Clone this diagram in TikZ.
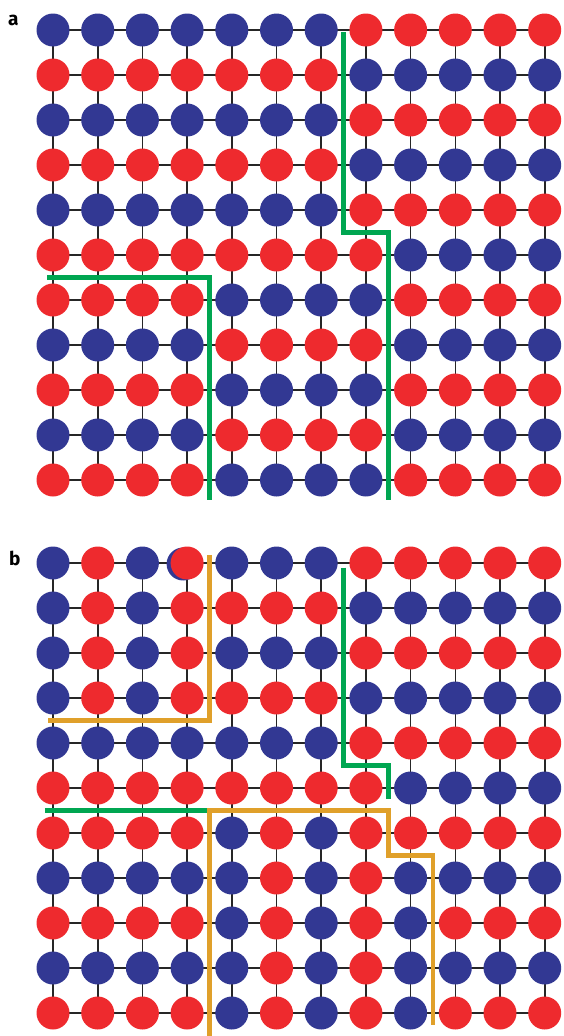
\documentclass[tikz,border=0pt]{standalone}
\usepackage{fontspec}
\newfontfamily\panelfont{Fira Sans}

\definecolor{latB}{RGB}{50,56,147}
\definecolor{latR}{RGB}{238,42,46}
\definecolor{wallG}{RGB}{0,166,81}
\definecolor{wallO}{RGB}{224,160,42}

\begin{document}
\begin{tikzpicture}[x=1pt, y=-1pt,
  site/.style={circle, inner sep=0pt, minimum size=33pt},
  bond/.style={line width=1.6pt, black!85},
  wallg/.style={line width=4.5pt, wallG},
  wallo/.style={line width=4.5pt, wallO},
  lbl/.style={font=\panelfont\bfseries\fontsize{19}{19}\selectfont, inner sep=0pt}]
\useasboundingbox (0,0) rectangle (563,1036);

\node[lbl, anchor=base west] (pa) at (8,25) {a};
\node[lbl, anchor=base west] (pb) at (9,565) {b};

% panel a
\begin{scope}[shift={(53pt,-30pt)}, x=44.7pt, y=-45pt]
  \foreach \cx in {0,...,11} \foreach \ry in {0,...,10} \coordinate (a-\cx-\ry) at (\cx,\ry);
  \foreach \ry in {0,...,10} \draw[bond] (a-0-\ry) -- (a-11-\ry);
  \foreach \cx in {0,...,11} \draw[bond] (a-\cx-0) -- (a-\cx-10);
  \foreach \rowcols [count=\ry from 0] in {
      {B,B,B,B,B,B,B,R,R,R,R,R},{R,R,R,R,R,R,R,B,B,B,B,B},
      {B,B,B,B,B,B,B,R,R,R,R,R},{R,R,R,R,R,R,R,B,B,B,B,B},
      {B,B,B,B,B,B,B,R,R,R,R,R},{R,R,R,R,R,R,R,R,B,B,B,B},
      {R,R,R,R,B,B,B,B,R,R,R,R},{B,B,B,B,R,R,R,R,B,B,B,B},
      {R,R,R,R,B,B,B,B,R,R,R,R},{B,B,B,B,R,R,R,R,B,B,B,B},
      {R,R,R,R,B,B,B,B,R,R,R,R}}
    \foreach \sp [count=\cx from 0] in \rowcols
      \node[site, fill=lat\sp] (sa-\cx-\ry) at (a-\cx-\ry) {};
  \draw[wallg] (6.5,0.05) -- (6.5,4.5) -- (7.5,4.5) -- (7.5,10.45);
  \draw[wallg] (-0.13,5.5) -- (3.5,5.5) -- (3.5,10.45);
\end{scope}

% panel b
\begin{scope}[shift={(53pt,-563pt)}, x=44.7pt, y=-45pt]
  \foreach \cx in {0,...,11} \foreach \ry in {0,...,10} \coordinate (b-\cx-\ry) at (\cx,\ry);
  \foreach \ry in {0,...,10} \draw[bond] (b-0-\ry) -- (b-11-\ry);
  \foreach \cx in {0,...,11} \draw[bond] (b-\cx-0) -- (b-\cx-10);
  \node[site, fill=latB] (sb-under) at ([shift={(-4pt,-1pt)}]b-3-0) {};
  \foreach \rowcols [count=\ry from 0] in {
      {B,R,B,R,B,B,B,R,R,R,R,R},{B,R,B,R,R,R,R,B,B,B,B,B},
      {B,R,B,R,B,B,B,R,R,R,R,R},{B,R,B,R,R,R,R,B,B,B,B,B},
      {B,B,B,B,B,B,B,R,R,R,R,R},{R,R,R,R,R,R,R,R,B,B,B,B},
      {R,R,R,R,B,R,B,R,R,R,R,R},{B,B,B,B,B,R,B,R,B,B,B,B},
      {R,R,R,R,B,R,B,R,B,R,R,R},{B,B,B,B,B,R,B,R,B,B,B,B},
      {R,R,R,R,B,R,B,R,B,R,R,R}}
    \foreach \sp [count=\cx from 0] in \rowcols
      \node[site, fill=lat\sp] (sb-\cx-\ry) at (b-\cx-\ry) {};
  \draw[wallg] (6.5,0.1) -- (6.5,4.5) -- (7.5,4.5) -- (7.5,5.25);
  \draw[wallg] (-0.18,5.5) -- (3.45,5.5);
  \draw[wallo] (3.5,-0.18) -- (3.5,3.5) -- (-0.12,3.5);
  \draw[wallo] (3.5,10.55) -- (3.5,5.5) -- (7.5,5.5) -- (7.5,6.5) -- (8.5,6.5) -- (8.5,10.27);
\end{scope}
\end{tikzpicture}
\end{document}
